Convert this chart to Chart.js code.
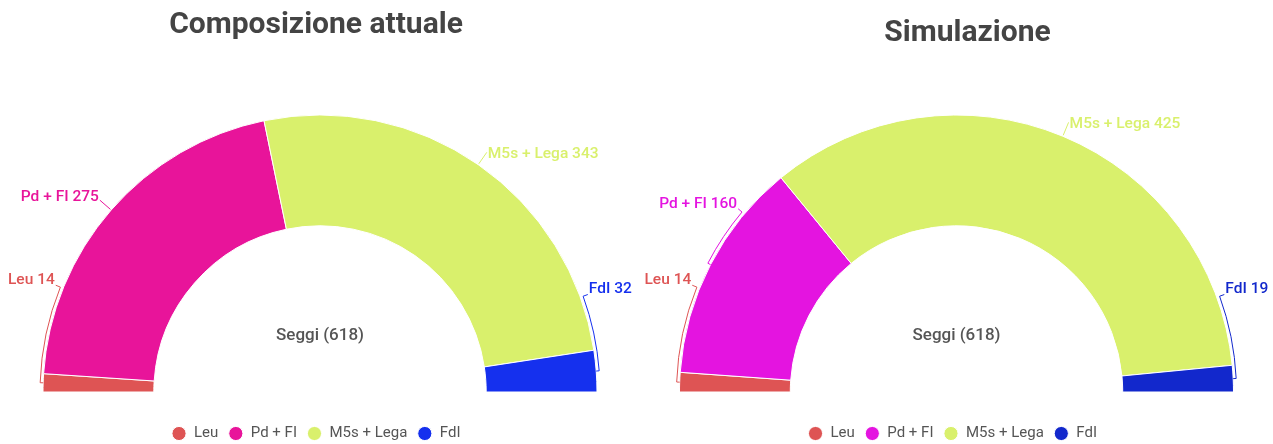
<!DOCTYPE html>
<html>
<head>
<meta charset="utf-8">
<script src="https://cdn.jsdelivr.net/npm/chart.js@4/dist/chart.umd.min.js"></script>
<style>
  body { margin: 0; background: #fff; }
  .wrap { display: flex; width: 1273px; height: 444px; }
  canvas { display: block; }
</style>
</head>
<body>
<div class="wrap">
  <canvas id="current" width="636" height="444"></canvas>
  <canvas id="simulation" width="637" height="444"></canvas>
</div>
<script>
const categories = ['Leu', 'Pd + FI', 'M5s + Lega', 'FdI'];
const currentSeats = [14, 275, 343, 32];
const simulatedSeats = [14, 160, 425, 19];
const totalSeats = 618;
const currentColors = ['#de5454', '#e8149a', '#d9f06c', '#1530ee'];
const simulatedColors = ['#de5454', '#e414e0', '#d9f06c', '#1228cc'];

Chart.defaults.font.family = 'Roboto, "Noto Sans", sans-serif';

const deg = Math.PI / 180;

// labels outside the arc, with a connector that follows the ring for small slices
const calloutPlugin = {
  id: 'callouts',
  afterDatasetsDraw(chart) {
    const ctx = chart.ctx;
    const ds = chart.data.datasets[0];
    const arcs = chart.getDatasetMeta(0).data;
    const items = arcs.map((a, i) => ({
      a, i,
      mid: ((a.startAngle + a.endAngle) / 2 + Math.PI) / deg
    }));

    // spread labels so they don't collide near the base
    let prev = -Infinity;
    items.filter(it => it.mid < 90).forEach(it => {
      it.lab = Math.max(it.mid, 22, prev + 18);
      prev = it.lab;
    });
    let next = Infinity;
    items.filter(it => it.mid >= 90).reverse().forEach(it => {
      it.lab = Math.min(it.mid, 160, next - 18);
      next = it.lab;
    });

    ctx.save();
    ctx.lineWidth = 1;
    ctx.font = '500 15.5px Roboto, "Noto Sans", sans-serif';
    ctx.textBaseline = 'middle';
    items.forEach(it => {
      const { x, y, outerRadius } = it.a.getProps(['x', 'y', 'outerRadius'], true);
      const color = ds.backgroundColor[it.i];
      const th = it.mid * deg - Math.PI;
      const tl = it.lab * deg - Math.PI;
      const pt = (r, t) => [x + r * Math.cos(t), y + r * Math.sin(t)];
      let end, dy;
      ctx.strokeStyle = color;
      ctx.beginPath();
      if (Math.abs(it.lab - it.mid) < 1) {
        ctx.moveTo(...pt(outerRadius + 1, th));
        end = pt(outerRadius + 15, th);
        ctx.lineTo(...end);
        dy = it.lab < 90 ? -3 : 2;
      } else {
        const r1 = outerRadius + 3;
        ctx.moveTo(...pt(outerRadius, th));
        ctx.lineTo(...pt(r1, th));
        ctx.arc(x, y, r1, th, tl, tl < th);
        end = pt(outerRadius + 8, tl);
        ctx.lineTo(...end);
        dy = -5;
      }
      ctx.stroke();

      const text = chart.data.labels[it.i] + ' ' + ds.data[it.i];
      ctx.fillStyle = color;
      if (it.lab < 90) {
        ctx.textAlign = 'right';
        ctx.fillText(text, end[0] - 1, end[1] + dy);
      } else {
        ctx.textAlign = 'left';
        ctx.fillText(text, end[0] + 1, end[1] + dy);
      }
    });
    ctx.restore();
  }
};

const centerTextPlugin = {
  id: 'centerText',
  afterDatasetsDraw(chart) {
    const arc = chart.getDatasetMeta(0).data[0];
    if (!arc) return;
    const ctx = chart.ctx;
    ctx.save();
    ctx.font = '500 17px Roboto, "Noto Sans", sans-serif';
    ctx.fillStyle = '#555';
    ctx.textAlign = 'center';
    ctx.textBaseline = 'middle';
    ctx.fillText('Seggi (' + totalSeats + ')', arc.x, arc.y - 56);
    ctx.restore();
  }
};

// nudge title and legend sideways without moving the arc
const boxShiftPlugin = {
  id: 'boxShift',
  afterLayout(chart, args, opts) {
    const t = chart.titleBlock;
    if (t && opts.titleDx) {
      t.left += opts.titleDx;
      t.right += opts.titleDx;
    }
    const l = chart.legend;
    if (l && opts.legendDx) {
      l.left += opts.legendDx;
      l.right += opts.legendDx;
    }
  }
};

function makeChart(id, title, values, colors, titleTop, titleDx) {
  return new Chart(document.getElementById(id), {
    type: 'doughnut',
    data: {
      labels: categories,
      datasets: [{
        data: values,
        backgroundColor: colors,
        borderColor: '#fff',
        borderWidth: 1,
        hoverOffset: 0
      }]
    },
    options: {
      responsive: false,
      animation: false,
      rotation: -90,
      circumference: 180,
      cutout: '60%',
      radius: 277,
      layout: { padding: { left: 4, right: 0, top: 0, bottom: -7 } },
      plugins: {
        title: {
          display: true,
          text: title,
          color: '#444',
          font: { size: 30, weight: 'bold' },
          padding: { top: titleTop, bottom: 91 - titleTop - 36 }
        },
        boxShift: { titleDx: titleDx, legendDx: -4 },
        legend: {
          position: 'bottom',
          labels: {
            usePointStyle: true,
            pointStyle: 'circle',
            boxWidth: 15,
            boxHeight: 10,
            padding: 10,
            color: '#555',
            font: { size: 15 }
          }
        },
        tooltip: { enabled: false }
      }
    },
    plugins: [calloutPlugin, centerTextPlugin, boxShiftPlugin]
  });
}

makeChart('current', 'Composizione attuale', currentSeats, currentColors, 7, -4);
makeChart('simulation', 'Simulazione', simulatedSeats, simulatedColors, 15, 11);
</script>
</body>
</html>
